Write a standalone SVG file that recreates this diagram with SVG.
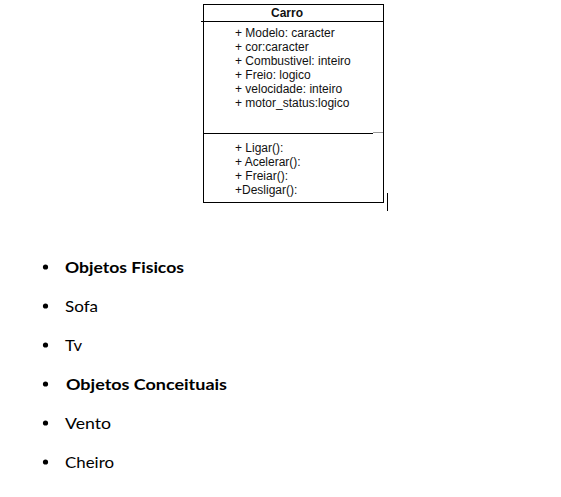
<svg xmlns="http://www.w3.org/2000/svg" width="561" height="497" viewBox="0 0 561 497">
<style>
.ln{stroke:#000;stroke-width:1;fill:none}
.uml{font-family:"Liberation Sans",Arial,sans-serif;font-size:12px;fill:#111}
.ttl{font-weight:bold}
.li{font-family:Lato,"Open Sans",sans-serif;font-size:16px;fill:#000}
.b{font-weight:bold}
</style>
<rect width="561" height="497" fill="#fff"/>
<g id="carro">
<rect class="ln" x="203.5" y="4.5" width="180" height="198"/>
<line class="ln" x1="201" y1="21.5" x2="383.5" y2="21.5"/>
<line class="ln" x1="203.5" y1="133.5" x2="373" y2="133.5"/>
<line x1="373" y1="132.5" x2="383" y2="132.5" stroke="#999" stroke-width="1"/>
<line x1="387.5" y1="193" x2="387.5" y2="211" stroke="#000" stroke-width="1"/>
<text class="uml ttl" x="271" y="17">Carro</text>
<text class="uml" x="235" y="37">+ Modelo: caracter</text>
<text class="uml" x="235" y="51">+ cor:caracter</text>
<text class="uml" x="235" y="65">+ Combustivel: inteiro</text>
<text class="uml" x="235" y="79">+ Freio: logico</text>
<text class="uml" x="235" y="93">+ velocidade: inteiro</text>
<text class="uml" x="235" y="107">+ motor_status:logico</text>
<text class="uml" x="235" y="152">+ Ligar():</text>
<text class="uml" x="235" y="166">+ Acelerar():</text>
<text class="uml" x="235" y="180">+ Freiar():</text>
<text class="uml" x="235" y="194">+Desligar():</text>
</g>
<g id="lista">
<circle cx="45.5" cy="267" r="2.6"/>
<circle cx="45.5" cy="306" r="2.6"/>
<circle cx="45.5" cy="345" r="2.6"/>
<circle cx="45.5" cy="384" r="2.6"/>
<circle cx="45.5" cy="423" r="2.6"/>
<circle cx="45.5" cy="462" r="2.6"/>
<text class="li b" x="65" y="272.5" textLength="119" lengthAdjust="spacingAndGlyphs">Objetos Fisicos</text>
<text class="li" x="65" y="311.5" textLength="33" lengthAdjust="spacingAndGlyphs">Sofa</text>
<text class="li" x="65" y="350.5" textLength="17" lengthAdjust="spacingAndGlyphs">Tv</text>
<text class="li b" x="66" y="389.5" textLength="161" lengthAdjust="spacingAndGlyphs">Objetos Conceituais</text>
<text class="li" x="65" y="428.5" textLength="46" lengthAdjust="spacingAndGlyphs">Vento</text>
<text class="li" x="65" y="467.5" textLength="49" lengthAdjust="spacingAndGlyphs">Cheiro</text>
</g>
</svg>
